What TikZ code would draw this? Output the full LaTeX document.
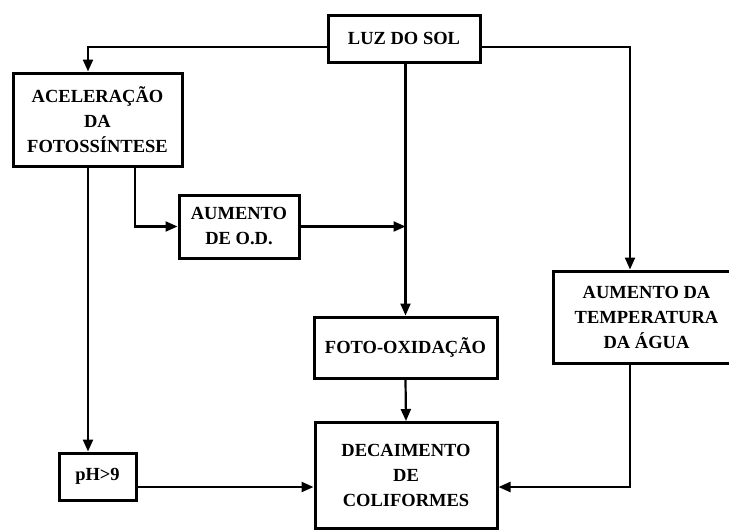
\documentclass[tikz,border=0pt]{standalone}
\usepackage{fontspec}
\setmainfont{Liberation Serif}
\usetikzlibrary{arrows.meta}
\tikzset{
  box/.style={draw, line width=3pt, rectangle, inner sep=0pt, align=center,
    font=\bfseries\fontsize{18.5}{25}\selectfont},
  arr/.style={line width=2.2pt, -{Triangle[length=12pt,width=10pt]}},
}
\begin{document}
\begin{tikzpicture}[x=1pt,y=-1pt]
\useasboundingbox (0,0) rectangle (729,531);
\node[box, minimum width=152pt, minimum height=47pt] (luz) at (404,38.5) {LUZ DO SOL};
\node[box, minimum width=169pt, minimum height=93pt] (acel) at (97.5,119.5) {ACELERAÇÃO\\DA\\FOTOSSÍNTESE};
\node[box, minimum width=120pt, minimum height=63pt] (aum) at (239,226.5) {AUMENTO\\DE O.D.};
\node[box, minimum width=183pt, minimum height=61pt] (foto) at (405.5,347.5) {FOTO-OXIDAÇÃO};
\node[box, minimum width=182pt, minimum height=106pt] (dec) at (406,475.5) {DECAIMENTO\\DE\\COLIFORMES};
\node[box, minimum width=187pt, minimum height=92pt] (temp) at (646.5,317) {AUMENTO DA\\TEMPERATURA\\DA ÁGUA};
\node[box, minimum width=77pt, minimum height=47pt] (ph) at (97.5,476.5) {pH>9};

\draw[arr] ([yshift=-8.5pt]luz.west) -| ([xshift=-9.5pt]acel.north);
\draw[arr] ([yshift=-8.5pt]luz.east) -| ([xshift=-16.5pt]temp.north);
\draw[arr] (luz.south -| foto.north) -- (foto.north);
\draw[arr] (foto.south) -- (dec.north);
\draw[arr] ([xshift=-9.5pt]acel.south) -- ([xshift=-9.5pt]ph.north);
\draw[arr] ([xshift=37.5pt]acel.south) |- (aum.west);
\draw[arr] (aum.east) -- (aum.east -| foto.north);
\draw[arr] ([yshift=-10.5pt]ph.east) -- ([yshift=-10.5pt]ph.east -| dec.west);
\draw[arr] ([xshift=-16.5pt]temp.south) |- ([yshift=-11.5pt]dec.east);
\end{tikzpicture}
\end{document}
